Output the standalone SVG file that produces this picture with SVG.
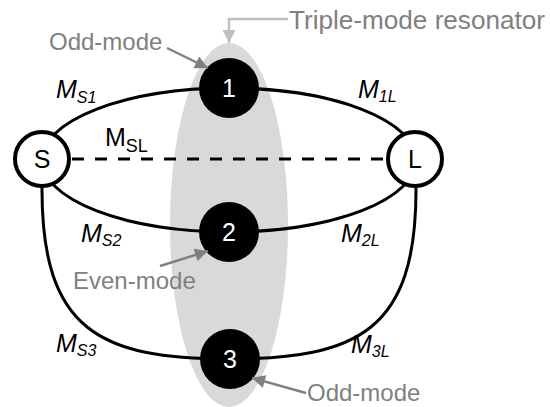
<svg xmlns="http://www.w3.org/2000/svg" width="550" height="407" viewBox="0 0 550 407">
<style>
text{font-family:"Liberation Sans",Arial,sans-serif}
.lbl{font-size:25px;fill:#000}
.it{font-style:italic}
.sub{font-size:16px}
.note{font-size:24px;fill:#808080}
.res{fill:#000}
.num{font-size:25px;fill:#fff;text-anchor:middle}
.port{fill:#fff;stroke:#000;stroke-width:4}
.portt{font-size:25px;fill:#000;text-anchor:middle}
.edge{fill:none;stroke:#000;stroke-width:3}
.ptr{fill:none;stroke:#808080;stroke-width:2.5}
.ptr2{fill:none;stroke:#bfbfbf;stroke-width:2.5}
</style>
<defs>
<marker id="ah" viewBox="0 0 10 10" refX="10" refY="5" markerUnits="userSpaceOnUse" markerWidth="15" markerHeight="13" orient="auto"><path d="M0,0 L10,5 L0,10 z" fill="#808080"/></marker>
<marker id="ah2" viewBox="0 0 10 10" refX="10" refY="5" markerUnits="userSpaceOnUse" markerWidth="14" markerHeight="13" orient="auto"><path d="M0,0 L10,5 L0,10 z" fill="#bfbfbf"/></marker>
</defs>
<g id="resonator">
<ellipse cx="229" cy="225" rx="59" ry="182" fill="#d9d9d9"/>
</g>
<g id="connectors">
<path class="edge" d="M42,160 A187,72 0 0 1 416,160"/>
<path class="edge" d="M42,160 A187,72 0 0 0 416,160"/>
<path class="edge" d="M42,160 L42,190 C42,330 100,359 229,359 C358,359 416,330 416,190 L416,160"/>
<line class="edge" x1="72" y1="159" x2="387" y2="159" stroke-dasharray="12 11"/>
</g>
<g id="node-S"><circle class="port" cx="42" cy="159" r="27"/><text class="portt" x="42" y="168">S</text></g>
<g id="node-L"><circle class="port" cx="415" cy="159" r="27"/><text class="portt" x="415" y="168">L</text></g>
<g id="node-1"><circle class="res" cx="229" cy="88" r="30"/><text class="num" x="229" y="97">1</text></g>
<g id="node-2"><circle class="res" cx="229" cy="232" r="30"/><text class="num" x="229" y="241">2</text></g>
<g id="node-3"><circle class="res" cx="230" cy="359" r="30"/><text class="num" x="230" y="368">3</text></g>
<g id="labels">
<text class="lbl it" x="56" y="98">M<tspan class="sub" dy="5">S1</tspan></text>
<text class="lbl" x="105" y="146">M<tspan style="font-size:18px" dy="6">SL</tspan></text>
<text class="lbl it" x="358" y="98">M<tspan class="sub" dy="4">1L</tspan></text>
<text class="lbl it" x="81" y="242">M<tspan class="sub" dy="4">S2</tspan></text>
<text class="lbl it" x="341" y="242">M<tspan class="sub" dy="4">2L</tspan></text>
<text class="lbl it" x="56" y="352">M<tspan class="sub" dy="4">S3</tspan></text>
<text class="lbl it" x="351" y="353">M<tspan class="sub" dy="4">3L</tspan></text>
</g>
<g id="annotations">
<text class="note" x="49" y="50">Odd-mode</text>
<line class="ptr" x1="167" y1="48" x2="208" y2="68" marker-end="url(#ah)"/>
<text class="note" x="73" y="289">Even-mode</text>
<line class="ptr" x1="160" y1="266" x2="208" y2="251" marker-end="url(#ah)"/>
<text class="note" x="307" y="401">Odd-mode</text>
<line class="ptr" x1="306" y1="393" x2="252" y2="378" marker-end="url(#ah)"/>
<text class="note" x="289" y="29" style="font-size:26px" textLength="256" lengthAdjust="spacingAndGlyphs">Triple-mode resonator</text>
<polyline class="ptr2" points="288,19 229,19 229,43" marker-end="url(#ah2)"/>
</g>
</svg>
